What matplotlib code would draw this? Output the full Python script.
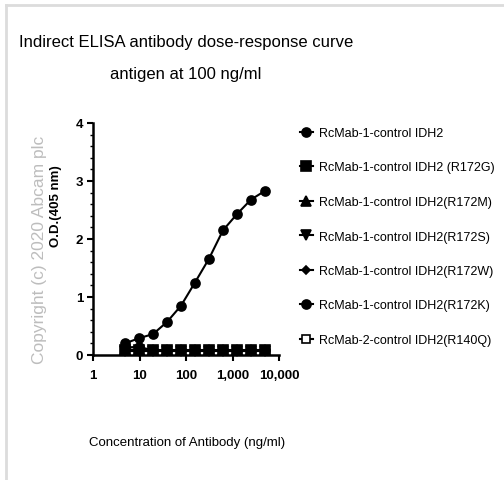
import matplotlib.pyplot as plt
from matplotlib.lines import Line2D
from matplotlib.ticker import MultipleLocator, FixedLocator, LogLocator, NullFormatter

plt.rcParams['font.family'] = ['Liberation Sans', 'DejaVu Sans']

# antibody concentration, ng/ml (2-fold dilution series)
conc = [4.88, 9.77, 19.5, 39.1, 78.1, 156, 312, 625, 1250, 2500, 5000]

idh2 = [0.20, 0.29, 0.36, 0.57, 0.85, 1.25, 1.66, 2.15, 2.43, 2.68, 2.83]
r172g = [0.09, 0.09, 0.08, 0.08, 0.08, 0.08, 0.08, 0.08, 0.08, 0.08, 0.08]
r172m = [0.08, 0.08, 0.08, 0.08, 0.08, 0.08, 0.08, 0.08, 0.08, 0.08, 0.08]
r172s = [0.07, 0.07, 0.07, 0.07, 0.07, 0.07, 0.07, 0.07, 0.07, 0.07, 0.07]
r172w = [0.08, 0.08, 0.07, 0.07, 0.07, 0.07, 0.07, 0.07, 0.07, 0.07, 0.07]
r172k = [0.13, 0.14, 0.08, 0.08, 0.08, 0.08, 0.08, 0.08, 0.08, 0.08, 0.08]
r140q = [0.07, 0.07, 0.07, 0.07, 0.07, 0.07, 0.07, 0.07, 0.07, 0.07, 0.07]

labels = ['RcMab-1-control IDH2', 'RcMab-1-control IDH2 (R172G)',
          'RcMab-1-control IDH2(R172M)', 'RcMab-1-control IDH2(R172S)',
          'RcMab-1-control IDH2(R172W)', 'RcMab-1-control IDH2(R172K)',
          'RcMab-2-control IDH2(R140Q)']
values = [idh2, r172g, r172m, r172s, r172w, r172k, r140q]
markers = ['o', 's', '^', 'v', 'D', 'o', 's']
msizes = [6.5, 6.5, 6.5, 6.5, 4.5, 6.5, 6]
fills = ['black'] * 6 + ['white']

fig = plt.figure(figsize=(5.04, 4.81), dpi=100)
ax = fig.add_axes([93 / 504, 1 - 356 / 481, 186 / 504, 232 / 481])

handles = []
for lab, vals, mk, ms, fc in reversed(list(zip(labels, values, markers, msizes, fills))):
    h, = ax.plot(conc, vals, color='black', lw=1.5, marker=mk, ms=ms,
                 mfc=fc, mec='black', mew=1.2, label=lab, clip_on=False)
    handles.append(h)
handles = handles[::-1]

ax.set_xscale('log')
ax.set_xlim(1, 10000)
ax.set_ylim(0, 4)
ax.xaxis.set_major_locator(FixedLocator([1, 10, 100, 1000, 10000]))
ax.set_xticklabels(['1', '10', '100', '1,000', '10,000'])
ax.xaxis.set_minor_locator(LogLocator(base=10, subs=range(2, 10)))
ax.xaxis.set_minor_formatter(NullFormatter())
ax.yaxis.set_major_locator(MultipleLocator(1))
ax.yaxis.set_minor_locator(MultipleLocator(0.2))

for s in ['top', 'right']:
    ax.spines[s].set_visible(False)
for s in ['left', 'bottom']:
    ax.spines[s].set_linewidth(1.8)

ax.tick_params(which='major', direction='out', length=4, width=1.5, labelsize=9.5)
ax.tick_params(axis='x', which='major', pad=6)
ax.tick_params(axis='y', which='major', pad=3)
ax.tick_params(which='minor', direction='out', length=2.5, width=1.0)
for t in ax.get_xticklabels() + ax.get_yticklabels():
    t.set_fontweight('bold')

# titles and axis labels
fig.text(186 / 504, 1 - 42 / 481, 'Indirect ELISA antibody dose-response curve',
         ha='center', va='center', fontsize=12)
fig.text(186 / 504, 1 - 75 / 481, 'antigen at 100 ng/ml',
         ha='center', va='center', fontsize=12)
fig.text(187 / 504, 1 - 443 / 481, 'Concentration of Antibody (ng/ml)',
         ha='center', va='center', fontsize=9.5)
fig.text(56 / 504, 1 - 206 / 481, 'O.D.(405 nm)', rotation=90,
         ha='center', va='center', fontsize=9.5, fontweight='bold')
fig.text(40 / 504, 1 - 250 / 481, 'Copyright (c) 2020 Abcam plc', rotation=90,
         ha='center', va='center', fontsize=12.5, color='#bdbdbd')

fig.legend(handles=handles, loc='upper left', bbox_to_anchor=(300 / 504, 1 - 128 / 481),
           frameon=False, fontsize=9, handlelength=1.0, handletextpad=0.5,
           labelspacing=1.8, borderaxespad=0, borderpad=0)

# light grey frame on the top and left edge
fig.add_artist(Line2D([6 / 504, 6 / 504], [0, 1 - 6 / 481], color='#dcdcdc', lw=2))
fig.add_artist(Line2D([6 / 504, 1], [1 - 6 / 481, 1 - 6 / 481], color='#dcdcdc', lw=2))

fig.savefig('out.png', dpi=100, facecolor='white')
